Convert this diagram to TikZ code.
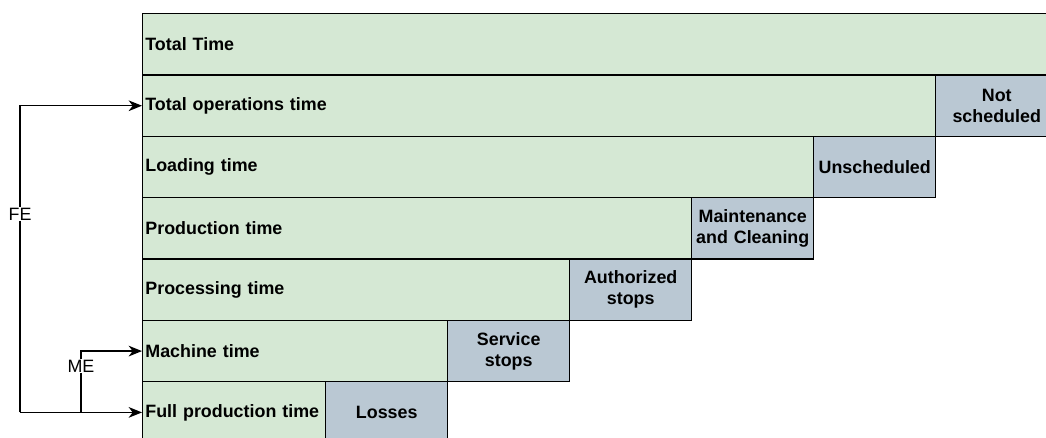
\documentclass[tikz,border=0pt]{standalone}
\usepackage{fontspec}
\setmainfont{Liberation Sans}
\usetikzlibrary{arrows.meta}
\definecolor{timefill}{HTML}{D5E8D4}
\definecolor{lossfill}{HTML}{BAC8D3}
\tikzset{
  cell/.style={draw=black, line width=1.1pt, anchor=north west,
    minimum height=46pt, inner sep=2pt, font=\bfseries\fontsize{13.4}{15.8}\selectfont},
  timebox/.style={cell, fill=timefill, align=left, text width=#1-4pt, minimum width=#1},
  lossbox/.style={cell, fill=lossfill, align=center, minimum width=91.5pt, text width=87pt},
  link/.style={line width=1.1pt, -{Stealth[length=10pt,width=8pt,inset=3pt]}},
  tag/.style={fill=white, inner sep=1pt, font=\fontsize{13.4}{15.8}\selectfont}
}
\begin{document}
\begin{tikzpicture}[x=0.75pt,y=-0.75pt]
\useasboundingbox (0,0) rectangle (1046,437);
\clip (0,0) rectangle (1046,437);
% time stairs
\node[timebox=690pt] (total) at (142,13) {Total Time};
\node[timebox=594.75pt] (ops) at (142,74.33) {Total operations time};
\node[lossbox] (notsch) at (935,74.33) {Not\\scheduled};
\node[timebox=503.25pt] (load) at (142,135.67) {Loading time};
\node[lossbox] (unsch) at (813,135.67) {Unscheduled};
\node[timebox=411.75pt] (prod) at (142,197) {Production time};
\node[lossbox] (maint) at (691,197) {Maintenance\\and Cleaning};
\node[timebox=320.25pt] (proc) at (142,258.33) {Processing time};
\node[lossbox] (auth) at (569,258.33) {Authorized\\stops};
\node[timebox=228.75pt] (mach) at (142,319.67) {Machine time};
\node[lossbox] (serv) at (447,319.67) {Service\\stops};
\node[timebox=137.25pt] (full) at (142,381) {Full production time};
\node[lossbox] (loss) at (325,381) {Losses};
% efficiency connectors
\coordinate (feTop) at (20,0 |- ops.west);
\coordinate (feBot) at (20,0 |- full.west);
\coordinate (meBot) at (81,0 |- full.west);
\coordinate (meTop) at (81,0 |- mach.west);
\draw[link] (feBot) -- (full.west);
\draw[link] (feBot) -- (feTop) -- (ops.west);
\draw[link] (meBot) -- (meTop) -- (mach.west);
\node[tag] (fe) at (20,214) {FE};
\node[tag] (me) at (81,366) {ME};
\end{tikzpicture}
\end{document}
